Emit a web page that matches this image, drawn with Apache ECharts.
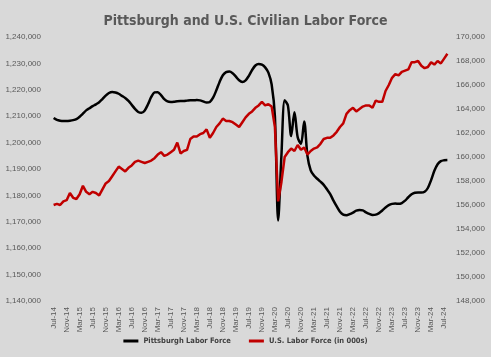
<!DOCTYPE html>
<html>
<head>
<meta charset="utf-8">
<script src="https://cdn.jsdelivr.net/npm/echarts@6/dist/echarts.min.js"></script>
<style>html,body{margin:0;padding:0;background:#d9d9d9;}#c{width:491px;height:357px;}</style>
</head>
<body>
<div id="c"></div>
<script>
var months = ['Jan','Feb','Mar','Apr','May','Jun','Jul','Aug','Sep','Oct','Nov','Dec'];
var categories = [];
(function(){ var m=6, y=14; for (var k=0;k<122;k++){ categories.push(months[m]+'-'+y); m++; if(m>11){m=0;y++;} } })();

var pittsburgh = [
1209.3,1208.6,1208.3,1208.2,1208.2,1208.3,1208.5,1208.9,1209.8,1211.0,1212.2,1213.0,
1213.8,1214.5,1215.3,1216.5,1217.8,1218.8,1219.2,1219.0,1218.5,1217.7,1216.9,1215.8,
1214.3,1212.8,1211.6,1211.3,1212.2,1214.5,1217.3,1219.0,1219.1,1218.0,1216.5,1215.6,
1215.4,1215.5,1215.7,1215.8,1215.8,1215.9,1216.0,1216.0,1216.1,1216.0,1215.6,1215.2,
1215.4,1217.0,1219.8,1223.0,1225.5,1226.7,1226.9,1226.3,1225.0,1223.6,1223.0,1223.6,
1225.3,1227.5,1229.2,1229.8,1229.5,1228.5,1226.5,1222.0,1210.0,1170.5,1195.0,1216.0,
1214.0,1202.5,1211.5,1202.0,1199.5,1208.0,1195.0,1189.5,1187.5,1186.3,1185.2,1184.0,
1182.3,1180.5,1178.0,1175.8,1173.8,1172.7,1172.5,1172.9,1173.5,1174.2,1174.5,1174.3,
1173.6,1173.0,1172.6,1172.7,1173.3,1174.3,1175.4,1176.3,1176.8,1176.9,1176.8,1177.1,
1178.0,1179.3,1180.4,1181.0,1181.1,1181.1,1181.4,1182.8,1185.8,1189.3,1191.8,1193.0,
1193.3,1193.4
];
var usLabor = [
156.0,156.1,156.0,156.3,156.4,157.0,156.6,156.5,156.9,157.6,157.1,156.9,
157.1,157.0,156.8,157.3,157.8,158.0,158.4,158.8,159.2,159.0,158.8,159.1,
159.3,159.6,159.7,159.6,159.5,159.6,159.7,159.9,160.2,160.4,160.1,160.2,
160.4,160.6,161.2,160.3,160.5,160.6,161.5,161.7,161.7,161.9,162.0,162.3,
161.6,162.0,162.5,162.8,163.2,163.0,163.0,162.9,162.7,162.5,162.9,163.3,
163.6,163.8,164.1,164.3,164.6,164.3,164.4,164.2,162.5,156.3,157.9,160.0,
160.4,160.7,160.5,161.0,160.6,160.8,160.2,160.5,160.7,160.8,161.1,161.5,
161.6,161.6,161.8,162.1,162.5,162.8,163.6,163.9,164.1,163.8,164.0,164.2,
164.3,164.3,164.1,164.7,164.6,164.6,165.5,166.0,166.6,166.9,166.8,167.1,
167.2,167.3,167.9,167.9,168.0,167.6,167.4,167.5,167.9,167.7,168.0,167.8,
168.2,168.6
];
var pittsburghData = pittsburgh.map(function(v){return Math.round(v*1000);});
var usData = usLabor.map(function(v){return Math.round(v*1000);});

var chart = echarts.init(document.getElementById('c'));
var fmt = function(v){ return v.toString().replace(/\B(?=(\d{3})+(?!\d))/g, ','); };
var lblFont = 'Liberation Sans, sans-serif';
var condFont = '"DejaVu Sans Condensed", "Liberation Sans", sans-serif';
chart.setOption({
  backgroundColor: '#d9d9d9',
  animation: false,
  title: {
    text: 'Pittsburgh and U.S. Civilian Labor Force',
    left: 'center', top: 9,
    textStyle: { color: '#595959', fontSize: 14, fontWeight: 'bold', fontFamily: condFont }
  },
  grid: { left: 52, right: 42, top: 37, bottom: 56 },
  legend: {
    bottom: 7, left: 'center', itemGap: 18, itemWidth: 15, itemHeight: 3, icon: 'rect',
    textStyle: { color: '#404040', fontSize: 7.5, fontWeight: 'bold', fontFamily: condFont },
    data: ['Pittsburgh Labor Force', 'U.S. Labor Force (in 000s)']
  },
  xAxis: {
    type: 'category', data: categories, boundaryGap: true,
    axisLine: { show: false }, axisTick: { show: false },
    axisLabel: { interval: 3, rotate: 90, margin: 6, color: '#595959', fontSize: 8, fontFamily: lblFont }
  },
  yAxis: [
    { type: 'value', min: 1140000, max: 1240000, interval: 10000,
      splitLine: { show: false }, axisLine: { show: false }, axisTick: { show: false },
      axisLabel: { margin: 11, color: '#595959', fontSize: 8, fontFamily: lblFont, formatter: fmt } },
    { type: 'value', min: 148000, max: 170000, interval: 2000, position: 'right',
      splitLine: { show: false }, axisLine: { show: false }, axisTick: { show: false },
      axisLabel: { margin: 7, color: '#595959', fontSize: 8, fontFamily: lblFont, formatter: fmt } }
  ],
  series: [
    { name: 'Pittsburgh Labor Force', type: 'line', yAxisIndex: 0, data: pittsburghData,
      showSymbol: false, smooth: 0.3, lineStyle: { color: '#000000', width: 2.5 }, itemStyle: { color: '#000000' } },
    { name: 'U.S. Labor Force (in 000s)', type: 'line', yAxisIndex: 1, data: usData,
      showSymbol: false, smooth: false, lineStyle: { color: '#c00000', width: 2.5 }, itemStyle: { color: '#c00000' } }
  ]
});
</script>
</body>
</html>
